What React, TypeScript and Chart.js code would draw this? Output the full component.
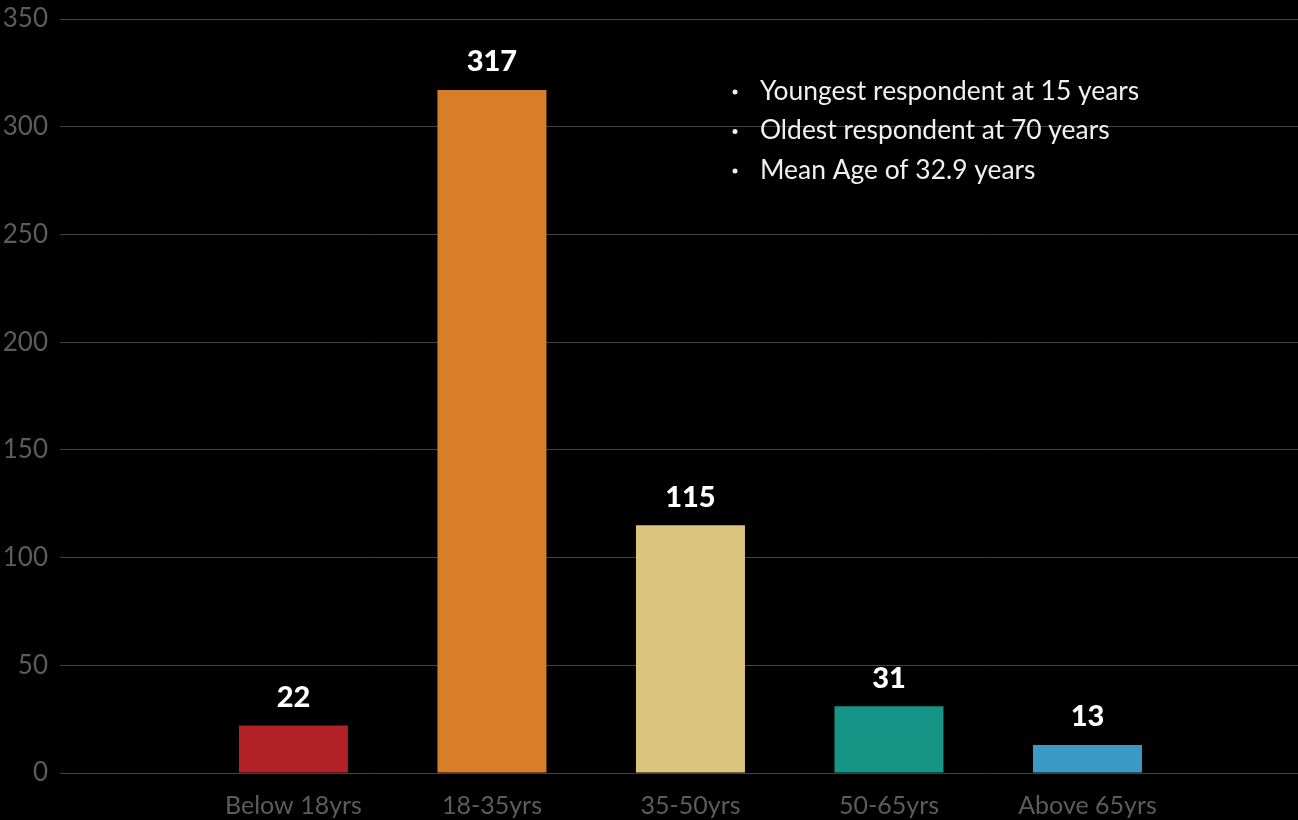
import React, { useEffect, useRef } from "react";
import { Chart, registerables } from "chart.js";

Chart.register(...registerables);

const categories = ["Below 18yrs", "18-35yrs", "35-50yrs", "50-65yrs", "Above 65yrs"];
const respondents = [22, 317, 115, 31, 13];
const barColors = ["#B22227", "#D97E28", "#DBC47C", "#169587", "#3A9AC4"];
const yTicks = [0, 50, 100, 150, 200, 250, 300, 350];
const notes = [
  "Youngest respondent at 15 years",
  "Oldest respondent at 70 years",
  "Mean Age of 32.9 years",
];

const FONT = "Lato, 'Open Sans', sans-serif";

// Writes each bar's value just above it
const valueLabels = {
  id: "valueLabels",
  afterDatasetsDraw(chart: any) {
    const ctx = chart.ctx;
    const meta = chart.getDatasetMeta(0);
    ctx.save();
    ctx.fillStyle = "#ffffff";
    ctx.font = `900 29px ${FONT}`;
    ctx.textAlign = "center";
    ctx.textBaseline = "middle";
    meta.data.forEach((bar: any, i: number) => {
      ctx.fillText(String(respondents[i]), bar.x, bar.y - 28);
    });
    ctx.restore();
  },
};

// Bulleted notes in the upper right of the plot
const notesBlock = {
  id: "notesBlock",
  afterDraw(chart: any) {
    const ctx = chart.ctx;
    ctx.save();
    ctx.fillStyle = "#f0f0f0";
    ctx.font = `26.4px ${FONT}`;
    ctx.textBaseline = "middle";
    notes.forEach((line, i) => {
      const y = 91 + i * 39.5;
      ctx.beginPath();
      ctx.arc(735, y + 1, 2.5, 0, Math.PI * 2);
      ctx.fill();
      ctx.fillText(line, 760, y);
    });
    ctx.restore();
  },
};

export default function App() {
  const ref = useRef<HTMLCanvasElement>(null);

  useEffect(() => {
    if (!ref.current) return;
    const chart = new Chart(ref.current, {
      type: "bar",
      data: {
        datasets: [
          {
            data: respondents.map((v, i) => ({ x: i, y: v })),
            backgroundColor: barColors,
            borderWidth: 0,
            barPercentage: 0.549,
            categoryPercentage: 1,
          },
        ],
      },
      options: {
        animation: false,
        responsive: false,
        maintainAspectRatio: false,
        layout: { padding: { top: 19, left: 0, right: 0, bottom: 0 } },
        plugins: {
          legend: { display: false },
          tooltip: { enabled: false },
        },
        scales: {
          x: {
            type: "linear",
            offset: false,
            min: -1.176,
            max: 5.0605,
            grid: { display: false, offset: false },
            border: { display: false },
            afterBuildTicks: (scale: any) => {
              scale.ticks = categories.map((_, i) => ({ value: i }));
            },
            afterFit: (scale: any) => {
              scale.height = 47;
              scale.paddingLeft = 0;
              scale.paddingRight = 0;
            },
            ticks: {
              color: "#5c5c5c",
              font: { family: FONT, size: 25 },
              padding: 10,
              maxRotation: 0,
              autoSkip: false,
              callback: (v: any) => categories[v as number] ?? "",
            },
          },
          y: {
            min: 0,
            max: 350,
            afterBuildTicks: (scale: any) => {
              scale.ticks = yTicks.map((v) => ({ value: v }));
            },
            afterFit: (scale: any) => {
              scale.width = 60;
              scale.paddingTop = 0;
              scale.paddingBottom = 0;
            },
            grid: { color: "#444444", lineWidth: 1, drawTicks: false },
            border: { display: false },
            ticks: {
              color: "#5c5c5c",
              font: { family: FONT, size: 26 },
              padding: 12,
            },
          },
        },
      },
      plugins: [valueLabels, notesBlock],
    });
    return () => chart.destroy();
  }, []);

  return (
    <div
      style={{
        position: "absolute",
        left: 0,
        top: 0,
        width: 1298,
        height: 820,
        background: "#000000",
      }}
    >
      <canvas ref={ref} width={1298} height={820} style={{ display: "block" }} />
    </div>
  );
}
